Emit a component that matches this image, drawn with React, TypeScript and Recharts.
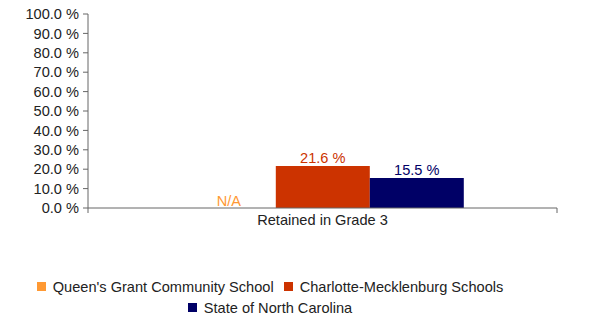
import { Bar, BarChart, LabelList, Legend, XAxis, YAxis } from "recharts";

const CATEGORIES = ["Retained in Grade 3"];
const QUEENS_GRANT = [0];
const CHARLOTTE_MECK = [21.6];
const NORTH_CAROLINA = [15.5];
const Y_TICKS = [0, 10, 20, 30, 40, 50, 60, 70, 80, 90, 100];

const SERIES = [
  { key: "qg", name: "Queen's Grant Community School", color: "#FF9933", na: true },
  { key: "cms", name: "Charlotte-Mecklenburg Schools", color: "#CC3300", na: false },
  { key: "nc", name: "State of North Carolina", color: "#000066", na: false },
];

const FONT = "Arial, 'Liberation Sans', sans-serif";
const FONT_SIZE = 14.6;
const AXIS_COLOR = "#666";
const TEXT_COLOR = "#222";

const data = CATEGORIES.map((name, i) => ({
  name,
  qg: QUEENS_GRANT[i],
  cms: CHARLOTTE_MECK[i],
  nc: NORTH_CAROLINA[i],
}));

function CategoryTick(props: any) {
  const { x, y, payload } = props;
  const half = payload?.offset ?? 234.5;
  return (
    <g>
      <line x1={x - half} x2={x - half} y1={y} y2={y + 5} stroke={AXIS_COLOR} />
      <line x1={x + half} x2={x + half} y1={y} y2={y + 5} stroke={AXIS_COLOR} />
      <text x={x} y={y + 17} textAnchor="middle" fill={TEXT_COLOR} fontSize={FONT_SIZE} fontFamily={FONT}>
        {payload.value}
      </text>
    </g>
  );
}

function makeBarLabel(color: string, na: boolean) {
  return (p: any) => {
    const x = Number(p.x) + Number(p.width) / 2;
    const y = Number(p.y) + Number(p.height) - (na ? 2 : Number(p.height) + 3);
    const text = na ? "N/A" : `${Number(p.value).toFixed(1)} %`;
    return (
      <text x={x} y={y} textAnchor="middle" fill={color} fontSize={FONT_SIZE} fontFamily={FONT}>
        {text}
      </text>
    );
  };
}

// N/A bars keep their slot but draw nothing
const EmptyShape = () => <g />;

function LegendBox() {
  return (
    <div
      style={{
        display: "flex",
        flexWrap: "wrap",
        justifyContent: "center",
        fontFamily: FONT,
        fontSize: FONT_SIZE,
        color: TEXT_COLOR,
      }}
    >
      {SERIES.map((s) => (
        <div key={s.key} style={{ display: "flex", alignItems: "center", height: 21, margin: "0 5px" }}>
          <span style={{ width: 9, height: 9, background: s.color, marginRight: 7, display: "inline-block" }} />
          <span>{s.name}</span>
        </div>
      ))}
    </div>
  );
}

export default function App() {
  return (
    <div style={{ position: "absolute", top: 0, left: 0, width: 589, height: 316, background: "#fff" }}>
      <BarChart
        width={589}
        height={316}
        data={data}
        margin={{ top: 14, right: 32, left: 0, bottom: 28 }}
        barCategoryGap="20%"
        barGap={0}
      >
        <XAxis
          dataKey="name"
          stroke={AXIS_COLOR}
          tickLine={false}
          tickSize={0}
          tickMargin={0}
          height={30}
          tick={<CategoryTick />}
        />
        <YAxis
          type="number"
          domain={[0, 100]}
          ticks={Y_TICKS}
          interval={0}
          width={88}
          stroke={AXIS_COLOR}
          tickSize={5}
          tickMargin={4}
          tick={{ fill: TEXT_COLOR, fontSize: FONT_SIZE, fontFamily: FONT }}
          tickFormatter={(v) => `${Number(v).toFixed(1)} %`}
        />
        <Legend
          verticalAlign="bottom"
          content={<LegendBox />}
          wrapperStyle={{ top: 276, left: 20, width: 500, height: 50 }}
        />
        {SERIES.map((s) => (
          <Bar
            key={s.key}
            dataKey={s.key}
            name={s.name}
            fill={s.color}
            isAnimationActive={false}
            minPointSize={s.na ? 1 : 0}
            shape={s.na ? <EmptyShape /> : undefined}
          >
            <LabelList dataKey={s.key} content={makeBarLabel(s.color, s.na)} />
          </Bar>
        ))}
      </BarChart>
    </div>
  );
}
